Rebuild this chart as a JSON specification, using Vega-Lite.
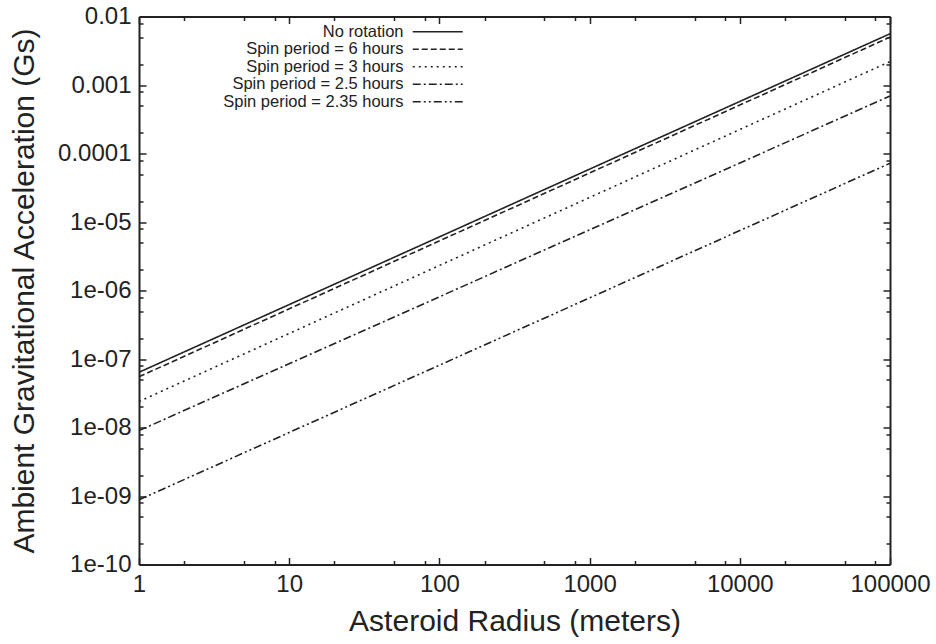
{
  "$schema": "https://vega.github.io/schema/vega-lite/v6.json",
  "width": 751,
  "height": 548,
  "autosize": {"type": "none"},
  "padding": {"left": 139, "top": 16.5, "right": 46, "bottom": 79.5},
  "background": "white",
  "config": {
    "view": {"stroke": null},
    "font": "Liberation Sans",
    "axis": {
      "grid": false,
      "domainColor": "#222",
      "domainWidth": 2,
      "tickColor": "#222",
      "tickWidth": 1.5,
      "labelFont": "Liberation Sans",
      "labelFontSize": 24,
      "labelColor": "#222",
      "labelOverlap": false,
      "labelFlush": false,
      "titleFont": "Liberation Sans",
      "titleFontSize": 30,
      "titleFontWeight": "normal",
      "titleColor": "#222"
    },
    "legend": {
      "orient": "none",
      "legendX": 290.5,
      "legendY": 7,
      "padding": 0,
      "symbolType": "M-5,0H5",
      "symbolSize": 100,
      "symbolStrokeWidth": 1.5,
      "symbolStrokeColor": "#222",
      "labelFont": "Liberation Sans",
      "labelFontSize": 16.5,
      "labelColor": "#222",
      "labelAlign": "right",
      "labelOffset": -42.5,
      "labelLimit": 0,
      "rowPadding": 0.5
    }
  },
  "data": {
    "values": [
      {"series": "No rotation", "radius": 1, "accel": 6.4e-8},
      {"series": "No rotation", "radius": 100000, "accel": 5.6e-3},
      {"series": "Spin period = 6 hours", "radius": 1, "accel": 5.5e-8},
      {"series": "Spin period = 6 hours", "radius": 100000, "accel": 5.0e-3},
      {"series": "Spin period = 3 hours", "radius": 1, "accel": 2.4e-8},
      {"series": "Spin period = 3 hours", "radius": 100000, "accel": 2.2e-3},
      {"series": "Spin period = 2.5 hours", "radius": 1, "accel": 9.0e-9},
      {"series": "Spin period = 2.5 hours", "radius": 100000, "accel": 6.9e-4},
      {"series": "Spin period = 2.35 hours", "radius": 1, "accel": 8.8e-10},
      {"series": "Spin period = 2.35 hours", "radius": 100000, "accel": 7.2e-5}
    ]
  },
  "layer": [
    {
      "mark": {"type": "line", "color": "#222", "strokeWidth": 1.6},
      "encoding": {
        "x": {
          "field": "radius", "type": "quantitative",
          "scale": {"type": "log", "domain": [1, 100000], "nice": false},
          "axis": {
            "orient": "bottom",
            "values": [1,2,5,8,10,20,50,80,100,200,500,800,1000,2000,5000,8000,10000,20000,50000,80000,100000],
            "labelExpr": "abs(log(datum.value)/LN10 - round(log(datum.value)/LN10)) > 0.001 ? '' : '' + datum.value",
            "tickSize": {"condition": {"test": "abs(log(datum.value)/LN10 - round(log(datum.value)/LN10)) > 0.001", "value": -4}, "value": -7},
            "labelPadding": 15,
            "title": "Asteroid Radius (meters)",
            "titleBaseline": "alphabetic",
            "titleY": 65.5
          }
        },
        "y": {
          "field": "accel", "type": "quantitative",
          "scale": {"type": "log", "domain": [1e-10, 0.01], "nice": false},
          "axis": {
            "orient": "left",
            "values": [1e-10,2e-10,5e-10,8e-10,1e-9,2e-9,5e-9,8e-9,1e-8,2e-8,5e-8,8e-8,1e-7,2e-7,5e-7,8e-7,1e-6,2e-6,5e-6,8e-6,1e-5,2e-5,5e-5,8e-5,0.0001,0.0002,0.0005,0.0008,0.001,0.002,0.005,0.008,0.01],
            "labelExpr": "abs(log(datum.value)/LN10 - round(log(datum.value)/LN10)) > 0.001 ? '' : (datum.value >= 0.0001 ? '' + datum.value : '1e-' + (round(-log(datum.value)/LN10) < 10 ? '0' : '') + round(-log(datum.value)/LN10))",
            "tickSize": {"condition": {"test": "abs(log(datum.value)/LN10 - round(log(datum.value)/LN10)) > 0.001", "value": -4}, "value": -7},
            "labelPadding": 15,
            "title": "Ambient Gravitational Acceleration (Gs)",
            "titleBaseline": "alphabetic",
            "titleX": -106,
            "titleY": 274
          }
        },
        "strokeDash": {
          "field": "series", "type": "nominal",
          "scale": {
            "domain": ["No rotation", "Spin period = 6 hours", "Spin period = 3 hours", "Spin period = 2.5 hours", "Spin period = 2.35 hours"],
            "range": [[1, 0], [6, 3], [2, 4], [8, 3, 2, 3], [8, 3, 2, 3, 2, 3]]
          },
          "legend": {"title": null}
        }
      }
    },
    {
      "mark": {"type": "line", "opacity": 0},
      "encoding": {
        "x": {
          "field": "radius", "type": "quantitative",
          "scale": {"type": "log", "domain": [1, 100000], "nice": false},
          "axis": {
            "orient": "top",
            "values": [1,2,5,8,10,20,50,80,100,200,500,800,1000,2000,5000,8000,10000,20000,50000,80000,100000],
            "labels": false,
            "tickSize": {"condition": {"test": "abs(log(datum.value)/LN10 - round(log(datum.value)/LN10)) > 0.001", "value": -4}, "value": -7},
            "title": null
          }
        },
        "y": {
          "field": "accel", "type": "quantitative",
          "scale": {"type": "log", "domain": [1e-10, 0.01], "nice": false},
          "axis": {
            "orient": "right",
            "values": [1e-10,2e-10,5e-10,8e-10,1e-9,2e-9,5e-9,8e-9,1e-8,2e-8,5e-8,8e-8,1e-7,2e-7,5e-7,8e-7,1e-6,2e-6,5e-6,8e-6,1e-5,2e-5,5e-5,8e-5,0.0001,0.0002,0.0005,0.0008,0.001,0.002,0.005,0.008,0.01],
            "labels": false,
            "tickSize": {"condition": {"test": "abs(log(datum.value)/LN10 - round(log(datum.value)/LN10)) > 0.001", "value": -4}, "value": -7},
            "title": null
          }
        },
        "detail": {"field": "series", "type": "nominal"}
      }
    }
  ],
  "resolve": {"axis": {"x": "independent", "y": "independent"}}
}
